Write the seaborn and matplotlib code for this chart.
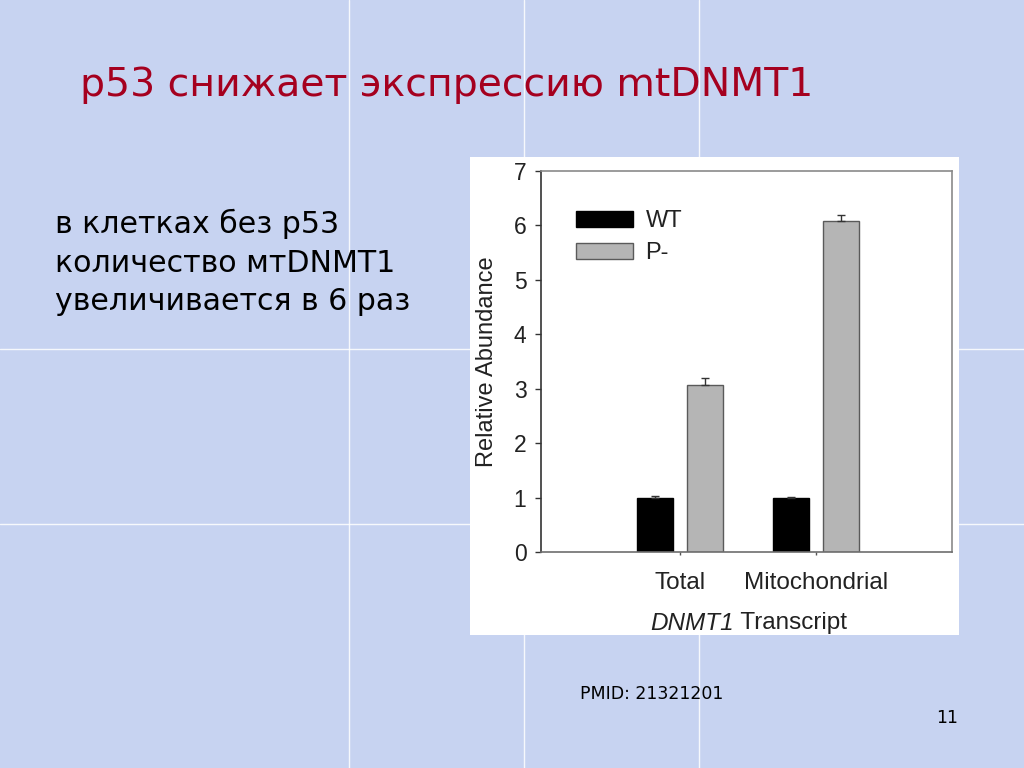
import matplotlib
matplotlib.use("Agg")
import matplotlib.pyplot as plt
from matplotlib.patches import Rectangle
from matplotlib.lines import Line2D
import seaborn as sns
import pandas as pd

# ---- data ----
transcripts = ["Total", "Mitochondrial"]
genotypes = ["WT", "P-"]
wt_values = [1.00, 1.00]
pminus_values = [3.07, 6.09]
wt_errors = [0.03, 0.01]
pminus_errors = [0.12, 0.11]
y_ticks = [0, 1, 2, 3, 4, 5, 6, 7]

title_text = "p53 снижает экспрессию mtDNMT1"
body_lines = ["в клетках без p53", "количество мтDNMT1", "увеличивается в 6 раз"]
source_text = "PMID: 21321201"
page_number = "11"

df = pd.DataFrame({
    "Transcript": transcripts * 2,
    "Genotype": [genotypes[0]] * 2 + [genotypes[1]] * 2,
    "Abundance": wt_values + pminus_values,
})
errors = {genotypes[0]: wt_errors, genotypes[1]: pminus_errors}

sns.set_theme(style="white")
plt.rcParams["font.family"] = ["Liberation Sans", "DejaVu Sans"]

W, H = 1024, 768
bg = "#C7D3F1"
fig = plt.figure(figsize=(W / 100, H / 100), dpi=100, facecolor=bg)

# slide grid lines
for xp in [349, 524, 699]:
    fig.add_artist(Line2D([xp / W, xp / W], [0, 1], color="white", lw=1.0, alpha=0.85, zorder=0))
for yp in [349, 524]:
    fig.add_artist(Line2D([0, 1], [1 - yp / H, 1 - yp / H], color="white", lw=1.0, alpha=0.85, zorder=0))

# white panel of the figure image
px0, px1, py0, py1 = 470, 959, 157, 635
fig.add_artist(Rectangle((px0 / W, 1 - py1 / H), (px1 - px0) / W, (py1 - py0) / H,
                         transform=fig.transFigure, facecolor="white", edgecolor="none", zorder=1))

ax_l, ax_r, ax_t, ax_b = 541, 952, 171, 552
ax = fig.add_axes([ax_l / W, 1 - ax_b / H, (ax_r - ax_l) / W, (ax_b - ax_t) / H])
ax.set_zorder(2)
ax.set_facecolor("white")

palette = {genotypes[0]: "#000000", genotypes[1]: "#B5B5B5"}
sns.barplot(data=df, x="Transcript", y="Abundance", hue="Genotype",
            order=transcripts, hue_order=genotypes, palette=palette,
            width=0.735, gap=0.28, errorbar=None, ax=ax, saturation=1)

edge_cols = {genotypes[0]: "#000000", genotypes[1]: "#5A5A5A"}
for cont, g in zip(ax.containers, genotypes):
    for bar, err in zip(cont, errors[g]):
        bar.set_edgecolor(edge_cols[g])
        bar.set_linewidth(1.0)
        xc = bar.get_x() + bar.get_width() / 2
        h = bar.get_height()
        ax.errorbar([xc], [h], yerr=[[0], [err]], fmt="none", ecolor="#333333",
                    elinewidth=1.0, capsize=2.8, capthick=1.0, zorder=3)

ax.set_xlim(-1.02, 2.0)
ax.set_ylim(0, 7)
ax.set_yticks(y_ticks)
ax.set_yticklabels([str(t) for t in y_ticks])

for side, col in [("left", "#333333"), ("bottom", "#6E6E6E"), ("top", "#8A8A8A"), ("right", "#8A8A8A")]:
    ax.spines[side].set_visible(True)
    ax.spines[side].set_color(col)
    ax.spines[side].set_linewidth(1.2)

ax.tick_params(axis="y", direction="out", length=4, width=1, color="#333333",
               labelsize=16.5, labelcolor="#222222", pad=6.5, left=True)
ax.tick_params(axis="x", direction="out", length=2.5, width=1, color="#555555",
               labelsize=17.5, labelcolor="#222222", pad=12, bottom=True)

ax.set_ylabel("Relative Abundance", fontsize=17, color="#222222")
ax.yaxis.set_label_coords(-0.131, 0.5)
ax.yaxis.label.set_va("center")
ax.set_xlabel("")

# x label: italic gene name + normal word
xl1 = ax.text((650 - ax_l) / (ax_r - ax_l), -(623 - ax_b) / (ax_b - ax_t), "DNMT1",
              transform=ax.transAxes, fontsize=17.5, fontstyle="italic", color="#222222",
              ha="left", va="center")
ax.annotate(" Transcript", xy=(1, 0), xycoords=xl1, ha="left", va="bottom",
            fontsize=17.5, color="#222222", annotation_clip=False)

leg = ax.legend(loc="upper left", bbox_to_anchor=(0.085, 0.897), borderaxespad=0,
                frameon=False, fontsize=17, handlelength=2.4, handleheight=0.68,
                handletextpad=0.55, labelspacing=0.42, borderpad=0)
for t in leg.get_texts():
    t.set_color("#222222")
for hnd, g in zip(leg.legend_handles, genotypes):
    hnd.set_edgecolor(edge_cols[g])

# slide texts (the slide is horizontally stretched, so a wider face is used)
slide_font = ["DejaVu Sans"]
fig.text(80 / W, 1 - 96 / H, title_text, fontsize=28.4, color="#A5001F", va="baseline",
         ha="left", family=slide_font)
for line, base in zip(body_lines, [233, 272, 310]):
    fig.text(55 / W, 1 - base / H, line, fontsize=21.6, color="black", va="baseline",
             ha="left", family=slide_font)
fig.text(580 / W, 1 - 699 / H, source_text, fontsize=12.5, color="black", va="baseline",
         ha="left", family=slide_font)
fig.text(958 / W, 1 - 723 / H, page_number, fontsize=12.5, color="black", va="baseline",
         ha="right", family=slide_font)

fig.savefig("out.png", dpi=100, facecolor=bg)
